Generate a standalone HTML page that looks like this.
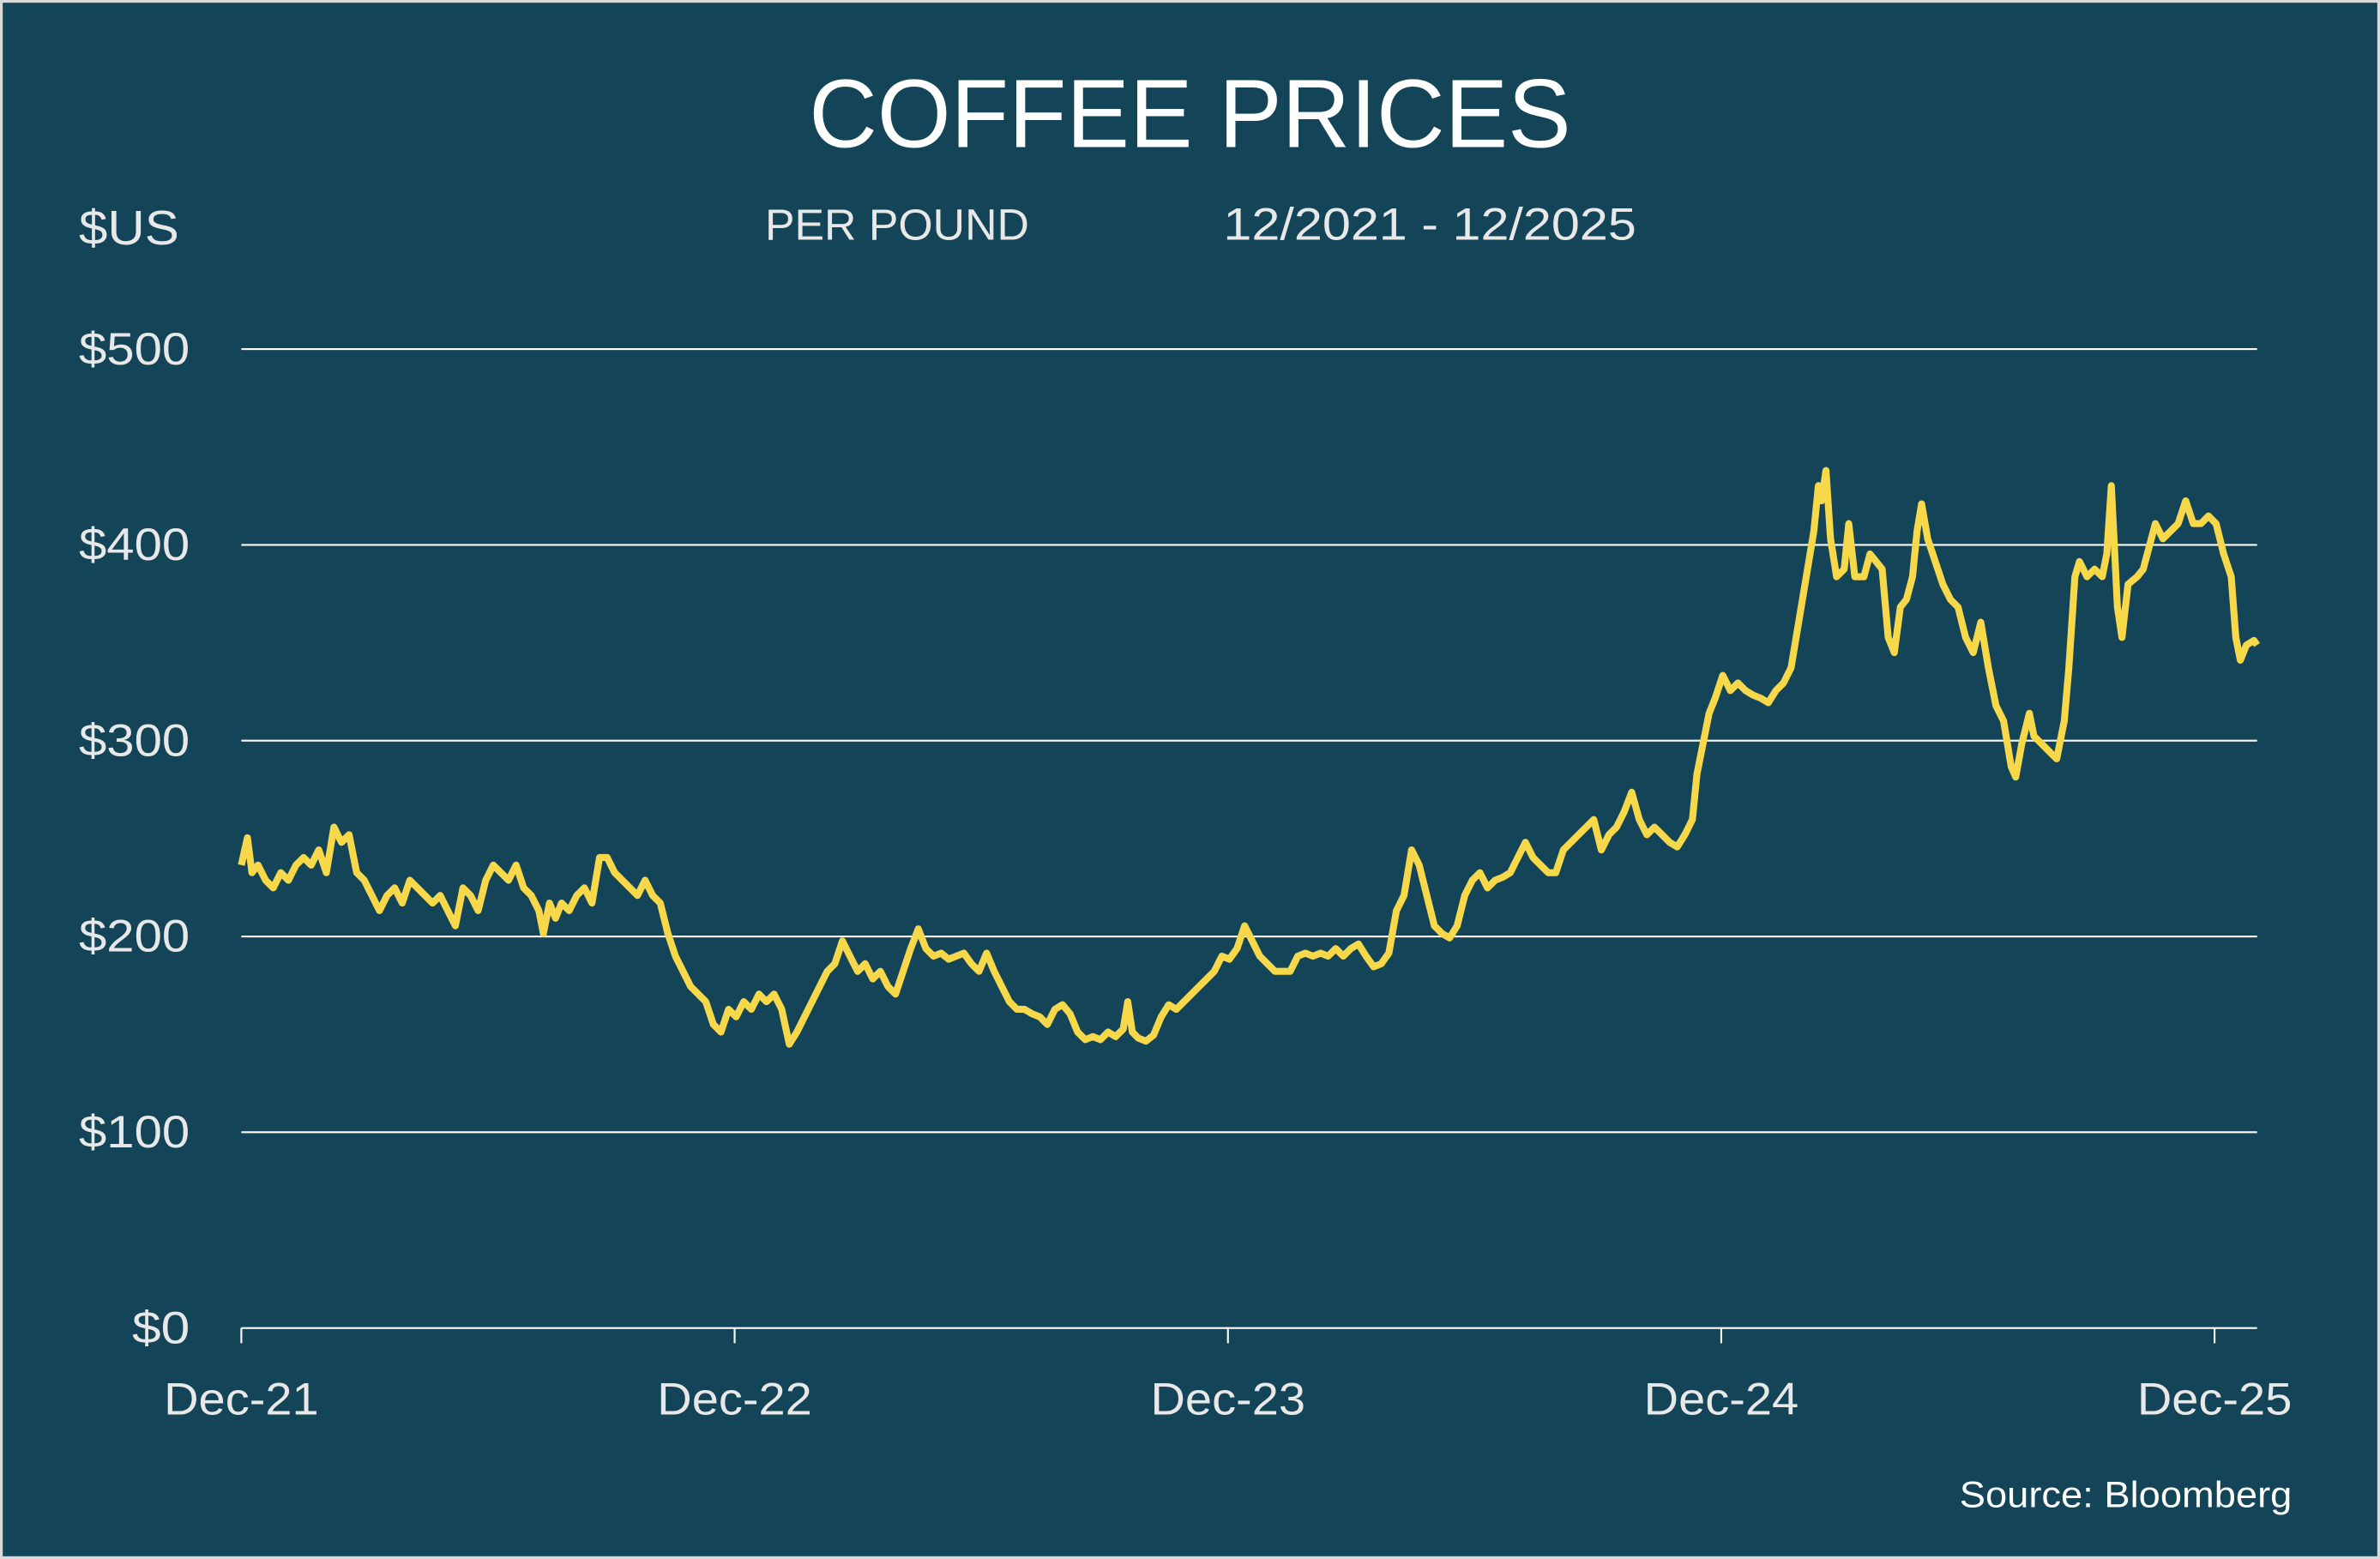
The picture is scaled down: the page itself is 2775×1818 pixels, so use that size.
<!DOCTYPE html>
<html><head><meta charset="utf-8"><style>
html,body{margin:0;padding:0;background:#d9d9d9;}
svg{display:block;}
</style></head><body>
<svg width="2775" height="1818" viewBox="0 0 1568 1027.2" preserveAspectRatio="none" xmlns="http://www.w3.org/2000/svg">
<rect x="0" y="0" width="1568" height="1027.2" fill="#d9d9d9"/>
<rect x="1.8" y="1.8" width="1564.4" height="1023.6" fill="#134457"/>
<g font-family="Liberation Sans, DejaVu Sans, sans-serif" fill="#ffffff" lengthAdjust="spacingAndGlyphs">
<text x="533" y="97" font-size="64" textLength="502" lengthAdjust="spacingAndGlyphs">COFFEE PRICES</text>
<text x="52" y="161" font-size="32" fill="#e8e8e8" textLength="66" lengthAdjust="spacingAndGlyphs">$US</text>
<text x="504" y="158" font-size="29" fill="#e8e8e8" textLength="174" lengthAdjust="spacingAndGlyphs">PER POUND</text>
<text x="806" y="158" font-size="30" fill="#e8e8e8" textLength="272" lengthAdjust="spacingAndGlyphs">12/2021 - 12/2025</text>
<g font-size="30" fill="#e8e8e8">
<text x="52" y="240" textLength="73" lengthAdjust="spacingAndGlyphs">$500</text>
<text x="52" y="369" textLength="73" lengthAdjust="spacingAndGlyphs">$400</text>
<text x="52" y="498" textLength="73" lengthAdjust="spacingAndGlyphs">$300</text>
<text x="52" y="627" textLength="73" lengthAdjust="spacingAndGlyphs">$200</text>
<text x="52" y="756" textLength="73" lengthAdjust="spacingAndGlyphs">$100</text>
<text x="87" y="885" textLength="38" lengthAdjust="spacingAndGlyphs">$0</text>
</g>
<g font-size="30" fill="#e8e8e8">
<text x="108" y="932" textLength="102" lengthAdjust="spacingAndGlyphs">Dec-21</text>
<text x="433" y="932" textLength="102" lengthAdjust="spacingAndGlyphs">Dec-22</text>
<text x="758" y="932" textLength="102" lengthAdjust="spacingAndGlyphs">Dec-23</text>
<text x="1083" y="932" textLength="102" lengthAdjust="spacingAndGlyphs">Dec-24</text>
<text x="1408" y="932" textLength="102" lengthAdjust="spacingAndGlyphs">Dec-25</text>
</g>
<text x="1291" y="993" font-size="24" textLength="219" lengthAdjust="spacingAndGlyphs">Source: Bloomberg</text>
</g>
<g stroke="#ffffff" stroke-width="1.2">
<line x1="159" y1="230" x2="1487" y2="230"/><line x1="159" y1="359" x2="1487" y2="359"/>
<line x1="159" y1="488" x2="1487" y2="488"/><line x1="159" y1="617" x2="1487" y2="617"/>
<line x1="159" y1="746" x2="1487" y2="746"/><line x1="159" y1="875" x2="1487" y2="875"/>
<line x1="159" y1="875" x2="159" y2="885"/><line x1="484" y1="875" x2="484" y2="885"/>
<line x1="809" y1="875" x2="809" y2="885"/><line x1="1134" y1="875" x2="1134" y2="885"/>
<line x1="1459" y1="875" x2="1459" y2="885"/>
</g>
<polyline fill="none" stroke="#f7d84a" stroke-width="4.6" stroke-linejoin="round" points="159,570 163,552 166,575 170,570 175,580 180,585 185,575 190,580 195,570 200,565 205,570 210,560 215,575 220,545 225,555 230,550 235,575 240,580 245,590 250,600 255,590 260,585 265,595 270,580 275,585 280,590 285,595 290,590 295,600 300,610 305,585 310,590 315,600 320,580 325,570 330,575 335,580 340,570 345,585 350,590 355,600 358,615 362,595 366,605 370,595 375,600 380,590 385,585 390,595 395,565 400,565 405,575 410,580 415,585 420,590 425,580 430,590 435,595 440,615 445,630 450,640 455,650 460,655 465,660 470,675 475,680 480,665 485,670 490,660 495,665 500,655 505,660 510,655 515,665 520,688 525,680 530,670 535,660 540,650 545,640 550,635 555,620 560,630 565,640 570,635 575,645 580,640 585,650 590,655 595,640 600,625 605,612 610,625 615,630 620,628 625,632 630,630 635,628 640,635 645,640 650,628 655,640 660,650 665,660 670,665 675,665 680,668 685,670 690,675 695,665 700,662 705,668 710,680 715,685 720,683 725,685 730,680 735,683 740,678 743,660 746,680 750,684 755,686 760,682 765,670 770,662 775,665 780,660 785,655 790,650 795,645 800,640 805,630 810,632 815,625 820,610 825,620 830,630 835,635 840,640 845,640 850,640 855,630 860,628 865,630 870,628 875,630 880,625 885,630 890,625 895,622 900,630 905,637 910,635 915,628 920,600 925,590 930,560 935,570 940,590 945,610 950,615 955,618 960,610 965,590 970,580 975,575 980,585 985,580 990,578 995,575 1000,565 1005,555 1010,565 1015,570 1020,575 1025,575 1030,560 1035,555 1040,550 1045,545 1050,540 1055,560 1060,550 1065,545 1070,535 1075,522 1080,540 1085,550 1090,545 1095,550 1100,555 1105,558 1110,550 1115,540 1118,510 1122,490 1126,470 1130,460 1135,445 1140,455 1145,450 1150,455 1155,458 1160,460 1165,463 1170,455 1175,450 1180,440 1185,410 1190,380 1195,350 1198,320 1200,330 1203,310 1206,355 1210,380 1215,375 1218,345 1222,380 1228,380 1232,365 1236,370 1240,375 1244,420 1248,430 1252,400 1256,395 1260,380 1263,350 1266,332 1270,355 1275,370 1280,385 1285,395 1290,400 1295,420 1300,430 1305,410 1310,440 1315,465 1320,475 1325,505 1328,512 1332,490 1337,470 1340,485 1345,490 1350,495 1355,500 1360,475 1363,440 1367,380 1370,370 1375,380 1380,375 1385,380 1388,365 1391,320 1395,400 1398,420 1402,385 1408,380 1412,375 1416,360 1420,345 1425,355 1430,350 1435,345 1440,330 1445,345 1450,345 1455,340 1460,345 1465,365 1470,380 1473,420 1476,435 1480,425 1485,422 1487,425"/>
</svg>
</body></html>
